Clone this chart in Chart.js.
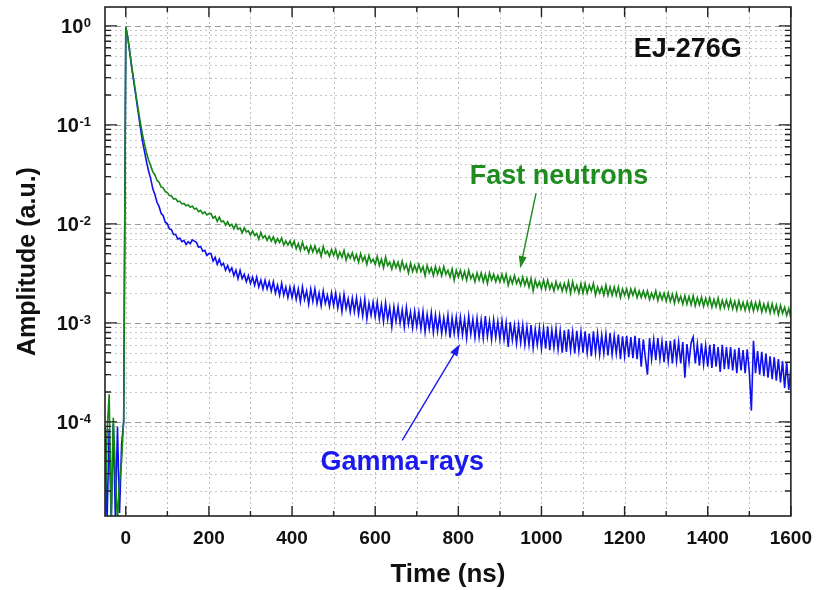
<!DOCTYPE html>
<html>
<head>
<meta charset="utf-8">
<script src="https://cdn.jsdelivr.net/npm/chart.js@4/dist/chart.umd.min.js"></script>
<style>
html,body{margin:0;padding:0;background:#fff;}
#wrap{width:823px;height:590px;}
</style>
</head>
<body>
<div id="wrap"><canvas id="c" width="823" height="590"></canvas></div>
<script>
// ---- sampling grid (ns) ----
const timeStart = -50;
const timeStep = 5;

// ---- Fast neutrons (green) ----
const fastNeutrons = [
  // -50 .. -5
  1.0e-5, 8.0e-5, 1.9e-4, 1.0e-5, 1.1e-4, 3.0e-5, 1.0e-5, 2.5e-5, 4.0e-5, 1.1e-4,
  // 0 .. 45
  0.98, 0.76, 0.53, 0.37, 0.27, 0.195, 0.142, 0.106, 0.081, 0.064,
  // 50 .. 95
  0.052, 0.044, 0.0385, 0.0335, 0.0314, 0.0276, 0.0263, 0.0236, 0.0231, 0.0212,
  // 100 .. 145
  0.0207, 0.0193, 0.0191, 0.0178, 0.0180, 0.0168, 0.0169, 0.0159, 0.0161, 0.0152,
  // 150 .. 195
  0.0156, 0.0147, 0.0151, 0.0141, 0.0144, 0.0133, 0.0137, 0.0127, 0.0132, 0.0123,
  // 200
  0.0127,
  // 205 .. 250
  0.0127, 0.0114, 0.0119, 0.0106, 0.0117, 0.0105, 0.0107, 0.0097, 0.0105, 0.0095,
  // 255 .. 300
  0.0099, 0.0089, 0.0099, 0.0088, 0.0091, 0.0081, 0.0091, 0.0083, 0.0085, 0.0077,
  // 305 .. 350
  0.0085, 0.0076, 0.0080, 0.0070, 0.0082, 0.0072, 0.0076, 0.0068, 0.0075, 0.0067,
  // 355 .. 400
  0.0074, 0.0064, 0.0071, 0.0065, 0.0072, 0.0061, 0.0067, 0.0061, 0.0067, 0.0059,
  // 405 .. 450
  0.0067, 0.0056, 0.0063, 0.0054, 0.0065, 0.0055, 0.0059, 0.0051, 0.0060, 0.0052,
  // 455 .. 500
  0.0060, 0.0051, 0.0056, 0.0047, 0.0059, 0.0050, 0.0053, 0.0047, 0.0055, 0.0048,
  // 505 .. 550
  0.0055, 0.0045, 0.0052, 0.0046, 0.0054, 0.0043, 0.0050, 0.0045, 0.0051, 0.0043,
  // 555 .. 600
  0.0049, 0.0041, 0.0050, 0.0042, 0.0047, 0.0039, 0.0048, 0.0041, 0.0044, 0.0039,
  // 605 .. 650
  0.0047, 0.0038, 0.0044, 0.0036, 0.0046, 0.0038, 0.0041, 0.0035, 0.0042, 0.0036,
  // 655 .. 700
  0.0041, 0.0034, 0.0042, 0.0035, 0.0039, 0.0032, 0.0040, 0.0033, 0.0038, 0.0033,
  // 705 .. 750
  0.0039, 0.0033, 0.0037, 0.0030, 0.0038, 0.0032, 0.0036, 0.0030, 0.0037, 0.0031,
  // 755 .. 800
  0.0036, 0.0030, 0.0037, 0.0031, 0.0034, 0.0029, 0.0035, 0.0027, 0.0034, 0.0029,
  // 805 .. 850
  0.0034, 0.0028, 0.0033, 0.0027, 0.0034, 0.0028, 0.0031, 0.0026, 0.0032, 0.0027,
  // 855 .. 900
  0.0032, 0.0026, 0.0031, 0.0025, 0.0032, 0.0027, 0.0031, 0.0026, 0.0030, 0.0026,
  // 905 .. 950
  0.0031, 0.0026, 0.0031, 0.0024, 0.0029, 0.0025, 0.0030, 0.0025, 0.0028, 0.0024,
  // 955 .. 1000
  0.0029, 0.0024, 0.0028, 0.0023, 0.0028, 0.0021, 0.0027, 0.0023, 0.0026, 0.0022,
  // 1005 .. 1050
  0.0027, 0.0022, 0.0027, 0.0022, 0.0025, 0.0021, 0.0026, 0.0022, 0.0025, 0.0021,
  // 1055 .. 1100
  0.0025, 0.0021, 0.0026, 0.0020, 0.0026, 0.0021, 0.0024, 0.0020, 0.0025, 0.0020,
  // 1105 .. 1150
  0.0025, 0.0020, 0.0024, 0.0021, 0.0025, 0.0019, 0.0023, 0.0020, 0.0023, 0.0019,
  // 1155 .. 1200
  0.0024, 0.0019, 0.0023, 0.0019, 0.0023, 0.0019, 0.0023, 0.0018, 0.0022, 0.0019,
  // 1205 .. 1250
  0.0022, 0.0018, 0.0022, 0.0019, 0.0022, 0.0018, 0.0021, 0.0018, 0.0021, 0.0018,
  // 1255 .. 1300
  0.0021, 0.00172, 0.0020, 0.00176, 0.0021, 0.00168, 0.0020, 0.00172, 0.0020, 0.00166,
  // 1305 .. 1350
  0.0020, 0.00165, 0.00194, 0.00158, 0.00198, 0.00163, 0.00185, 0.00155, 0.00188, 0.00155,
  // 1355 .. 1400
  0.00185, 0.00153, 0.00188, 0.00149, 0.00179, 0.00152, 0.00181, 0.00147, 0.00177, 0.00150,
  // 1405 .. 1450
  0.00178, 0.00144, 0.00172, 0.00146, 0.00178, 0.00140, 0.00169, 0.00142, 0.00170, 0.00141,
  // 1455 .. 1500
  0.00171, 0.00139, 0.00165, 0.00135, 0.00167, 0.00138, 0.00161, 0.00134, 0.00163, 0.00134,
  // 1505 .. 1550
  0.00163, 0.00132, 0.00160, 0.00135, 0.00163, 0.00129, 0.00155, 0.00131, 0.00157, 0.00126,
  // 1555 .. 1600
  0.00156, 0.00127, 0.00151, 0.00121, 0.00150, 0.00125, 0.00144, 0.00119, 0.00139, 0.00112
];

// ---- Gamma-rays (blue), values ----
const gammaRays = [
  // -50 .. -5
  9.0e-5, 1.0e-5, 8.5e-5, 1.0e-5, 9.5e-5, 1.0e-5, 9.0e-5, 1.2e-5, 6.0e-5, 1.0e-4,
  // 0 .. 45
  0.97, 0.75, 0.52, 0.36, 0.26, 0.185, 0.132, 0.095, 0.069, 0.054,
  // 50 .. 95
  0.042, 0.034, 0.0285, 0.0226, 0.0198, 0.0165, 0.0150, 0.0128, 0.0121, 0.0104,
  // 100 .. 145
  0.0100, 0.0089, 0.0087, 0.0078, 0.0078, 0.0070, 0.0072, 0.0066, 0.0068, 0.0062,
  // 150 .. 195
  0.0066, 0.0063, 0.0069, 0.0067, 0.0065, 0.0058, 0.0059, 0.0053, 0.0054, 0.0048,
  // 200
  0.0050,
  // 205 .. 250
  0.0050, 0.0042, 0.0046, 0.0039, 0.0044, 0.0038, 0.0040, 0.0034, 0.0038, 0.0033,
  // 255 .. 300
  0.0036, 0.0030, 0.0034, 0.0028, 0.0034, 0.0028, 0.0031, 0.0026, 0.0030, 0.0025,
  // 305 .. 350
  0.0029, 0.0024, 0.0029, 0.0023, 0.0027, 0.0022, 0.0027, 0.0022, 0.0026, 0.0021,
  // 355 .. 400
  0.0026, 0.0020, 0.0024, 0.0019, 0.0025, 0.0019, 0.0023, 0.0018, 0.0023, 0.0018,
  // 405 .. 450
  0.0023, 0.00173, 0.0022, 0.00163, 0.0023, 0.00172, 0.0021, 0.00154, 0.0022, 0.00165,
  // 455 .. 500
  0.0022, 0.00157, 0.0020, 0.00149, 0.0021, 0.00157, 0.0019, 0.00147, 0.0020, 0.0015,
  // 505 .. 550
  0.0020, 0.00141, 0.00187, 0.0013, 0.00194, 0.00139, 0.00175, 0.00129, 0.00178, 0.0013,
  // 555 .. 600
  0.00179, 0.00123, 0.00168, 0.00118, 0.00174, 0.0011, 0.00158, 0.00119, 0.00162, 0.00115,
  // 605 .. 650
  0.00162, 0.0011, 0.00152, 0.00103, 0.00159, 0.00108, 0.00143, 0.00092, 0.00145, 0.00104,
  // 655 .. 700
  0.00145, 0.00099, 0.00136, 0.00091, 0.00143, 0.00097, 0.00129, 0.00089, 0.00131, 0.00092,
  // 705 .. 750
  0.00128, 0.00087, 0.0013, 0.00081, 0.00122, 0.00087, 0.00127, 0.0008, 0.0012, 0.00082,
  // 755 .. 800
  0.00118, 0.00078, 0.00113, 0.0008, 0.00119, 0.00071, 0.00113, 0.00078, 0.00114, 0.00075,
  // 805 .. 850
  0.00114, 0.00076, 0.00109, 0.0007, 0.00117, 0.00077, 0.00109, 0.00071, 0.00111, 0.00072,
  // 855 .. 900
  0.00107, 0.0007, 0.00117, 0.00073, 0.00104, 0.00068, 0.00107, 0.00071, 0.00103, 0.00068,
  // 905 .. 950
  0.00105, 0.00068, 0.0010, 0.00057, 0.00102, 0.00067, 0.00095, 0.00062, 0.00095, 0.00063,
  // 955 .. 1000
  0.00095, 0.0006, 0.00091, 0.0006, 0.00095, 0.00056, 0.00087, 0.0006, 0.00089, 0.00055,
  // 1005 .. 1050
  0.00088, 0.00055, 0.00092, 0.00053, 0.00085, 0.00056, 0.00087, 0.00054, 0.00083, 0.0005,
  // 1055 .. 1100
  0.00084, 0.00051, 0.00086, 0.00053, 0.00081, 0.00049, 0.00083, 0.00052, 0.00081, 0.0005,
  // 1105 .. 1150
  0.00082, 0.0005, 0.00078, 0.00046, 0.00082, 0.0005, 0.00078, 0.00048, 0.00075, 0.00049,
  // 1155 .. 1200
  0.00077, 0.00047, 0.00079, 0.00048, 0.00074, 0.00049, 0.00076, 0.00043, 0.00073, 0.00046,
  // 1205 .. 1250
  0.00074, 0.00045, 0.00072, 0.00044, 0.00074, 0.00043, 0.0007, 0.00036, 0.00068, 0.00044,
  // 1255 .. 1300
  0.0003, 0.0007, 0.00043, 0.00068, 0.00042, 0.0007, 0.00043, 0.00065, 0.0004, 0.00066,
  // 1305 .. 1350
  0.00041, 0.00066, 0.00039, 0.00068, 0.00041, 0.00064, 0.00039, 0.00064, 0.00028, 0.00061,
  // 1355 .. 1400
  0.0004, 0.00063, 0.00072, 0.00039, 0.00061, 0.00037, 0.00062, 0.00038, 0.00059, 0.00036,
  // 1405 .. 1450
  0.0006, 0.00035, 0.00061, 0.00036, 0.00057, 0.00032, 0.0006, 0.00034, 0.00057, 0.00034,
  // 1455 .. 1500
  0.00057, 0.00033, 0.00054, 0.00031, 0.00056, 0.00033, 0.00053, 0.00031, 0.00054, 0.00032,
  // 1505 .. 1550
  0.00013, 0.00066, 0.00031, 0.00052, 0.0003, 0.00051, 0.00029, 0.00049, 0.00028, 0.00046,
  // 1555 .. 1600
  0.00027, 0.00045, 0.00026, 0.00043, 0.00025, 0.00041, 0.00022, 0.0004, 0.00021, 0.00035
];

// ---- axes ----
const xRange = [-50, 1600];
const yRange = [1.12e-5, 1.55];
const xTickValues = [0, 100, 200, 300, 400, 500, 600, 700, 800, 900, 1000, 1100, 1200, 1300, 1400, 1500, 1600];
const xLabelValues = [0, 200, 400, 600, 800, 1000, 1200, 1400, 1600];
const yDecadeExponents = [-5, -4, -3, -2, -1, 0];
const yMinorMultipliers = [1, 2, 3, 4, 5, 6, 7, 8, 9];

// ---- annotations (data coordinates) ----
const textLabels = [
  { text: 'EJ-276G', x: 1352, y: 0.57, color: '#111111' },
  { text: 'Fast neutrons', x: 1042, y: 0.0303, color: '#1e8c1e' },
  { text: 'Gamma-rays', x: 665, y: 3.9e-5, color: '#1a1aee' }
];
const arrows = [
  { from: [987, 0.0204], to: [949, 0.00357], color: '#1e8c1e' },
  { from: [665, 6.5e-5], to: [804, 6.1e-4], color: '#1a1aee' }
];

const FONT = '"Liberation Sans", Arial, Helvetica, sans-serif';
const GREEN = '#158715';
const BLUE = '#1010ee';

const toPoints = arr => arr.map((v, i) => ({ x: timeStart + i * timeStep, y: v }));

const decorPlugin = {
  id: 'decor',
  beforeDatasetsDraw(chart) {
    const { ctx, chartArea: a, scales: { x, y } } = chart;
    ctx.save();
    ctx.lineWidth = 1;
    ctx.strokeStyle = '#bdbdbd';
    ctx.setLineDash([2, 3]);
    x.ticks.forEach(t => {
      const px = Math.round(x.getPixelForValue(t.value)) + 0.5;
      if (px <= a.left + 1 || px >= a.right - 1) return;
      ctx.beginPath(); ctx.moveTo(px, a.top); ctx.lineTo(px, a.bottom); ctx.stroke();
    });
    y.ticks.forEach(t => {
      const py = Math.round(y.getPixelForValue(t.value)) + 0.5;
      if (py <= a.top + 1 || py >= a.bottom - 1) return;
      if (t.major) { ctx.strokeStyle = '#9d9d9d'; ctx.setLineDash([6, 4]); }
      else { ctx.strokeStyle = '#c6c6c6'; ctx.setLineDash([2, 3]); }
      ctx.beginPath(); ctx.moveTo(a.left, py); ctx.lineTo(a.right, py); ctx.stroke();
    });
    ctx.restore();
  },
  afterDatasetsDraw(chart) {
    const { ctx, chartArea: a, scales: { x, y } } = chart;
    ctx.save();
    ctx.setLineDash([]);
    ctx.strokeStyle = '#222';
    ctx.lineWidth = 1.6;
    ctx.strokeRect(a.left, a.top, a.right - a.left, a.bottom - a.top);
    ctx.lineWidth = 1.4;
    x.ticks.forEach(t => {
      const px = x.getPixelForValue(t.value);
      const len = xLabelValues.includes(t.value) ? 10 : 5;
      ctx.beginPath();
      ctx.moveTo(px, a.bottom); ctx.lineTo(px, a.bottom - len);
      ctx.moveTo(px, a.top); ctx.lineTo(px, a.top + len);
      ctx.stroke();
    });
    y.ticks.forEach(t => {
      const py = y.getPixelForValue(t.value);
      if (py < a.top - 0.5 || py > a.bottom + 0.5) return;
      const len = t.major ? 12 : 6;
      ctx.beginPath();
      ctx.moveTo(a.left, py); ctx.lineTo(a.left + len, py);
      ctx.moveTo(a.right, py); ctx.lineTo(a.right - len, py);
      ctx.stroke();
    });
    ctx.fillStyle = '#111';
    yDecadeExponents.forEach(e => {
      const v = Math.pow(10, e);
      if (v < y.min || v > y.max) return;
      const py = y.getPixelForValue(v);
      const exp = e === 0 ? '0' : '-' + Math.abs(e);
      ctx.font = 'bold 13px ' + FONT;
      const ew = ctx.measureText(exp).width;
      const right = 91;
      ctx.textAlign = 'left';
      ctx.textBaseline = 'top';
      ctx.fillText(exp, right - ew, py - 9);
      ctx.font = 'bold 20px ' + FONT;
      ctx.textAlign = 'right';
      ctx.textBaseline = 'middle';
      ctx.fillText('10', right - ew - 0.5, py + 1.5);
    });
    arrows.forEach(ar => {
      const x0 = x.getPixelForValue(ar.from[0]), y0 = y.getPixelForValue(ar.from[1]);
      const x1 = x.getPixelForValue(ar.to[0]), y1 = y.getPixelForValue(ar.to[1]);
      const ang = Math.atan2(y1 - y0, x1 - x0);
      const hl = 12, hw = 4;
      ctx.strokeStyle = ar.color; ctx.fillStyle = ar.color; ctx.lineWidth = 1.4;
      ctx.beginPath(); ctx.moveTo(x0, y0);
      ctx.lineTo(x1 - Math.cos(ang) * hl * 0.8, y1 - Math.sin(ang) * hl * 0.8); ctx.stroke();
      ctx.beginPath();
      ctx.moveTo(x1, y1);
      ctx.lineTo(x1 - Math.cos(ang) * hl - Math.sin(ang) * hw, y1 - Math.sin(ang) * hl + Math.cos(ang) * hw);
      ctx.lineTo(x1 - Math.cos(ang) * hl + Math.sin(ang) * hw, y1 - Math.sin(ang) * hl - Math.cos(ang) * hw);
      ctx.closePath(); ctx.fill();
    });
    ctx.font = 'bold 27px ' + FONT;
    ctx.textAlign = 'center';
    ctx.textBaseline = 'middle';
    textLabels.forEach(l => {
      ctx.fillStyle = l.color;
      ctx.fillText(l.text, x.getPixelForValue(l.x), y.getPixelForValue(l.y));
    });
    ctx.restore();
  }
};

new Chart(document.getElementById('c'), {
  type: 'line',
  data: {
    datasets: [
      { label: 'Fast neutrons', data: toPoints(fastNeutrons), borderColor: GREEN, borderWidth: 1.6, pointRadius: 0, fill: false, tension: 0 },
      { label: 'Gamma-rays', data: toPoints(gammaRays), borderColor: BLUE, borderWidth: 1.6, pointRadius: 0, fill: false, tension: 0 }
    ]
  },
  options: {
    responsive: false,
    animation: false,
    devicePixelRatio: 1,
    layout: { padding: { left: 0, right: 26, top: 7, bottom: 0 } },
    plugins: { legend: { display: false }, tooltip: { enabled: false } },
    scales: {
      x: {
        type: 'linear', bounds: 'data', min: xRange[0], max: xRange[1],
        afterBuildTicks: s => { s.ticks = xTickValues.map(v => ({ value: v })); },
        afterFit: s => { s.height = 74; },
        grid: { display: false, drawTicks: false },
        border: { display: false },
        ticks: {
          autoSkip: false, maxRotation: 0, minRotation: 0, padding: 11,
          color: '#111', font: { family: FONT, size: 19, weight: 'bold' },
          callback: v => xLabelValues.includes(v) ? String(v) : ''
        },
        title: { display: true, text: 'Time (ns)', color: '#111', font: { family: FONT, size: 26, weight: 'bold' }, padding: { top: 0, bottom: 0 } }
      },
      y: {
        type: 'logarithmic', bounds: 'data', min: yRange[0], max: yRange[1],
        afterBuildTicks: s => {
          const t = [];
          yDecadeExponents.forEach(e => yMinorMultipliers.forEach(m => {
            const v = m * Math.pow(10, e);
            if (v >= s.min && v <= s.max) t.push({ value: v, major: m === 1 });
          }));
          s.ticks = t;
        },
        afterFit: s => { s.width = 105; },
        grid: { display: false, drawTicks: false },
        border: { display: false },
        ticks: { display: false },
        title: { display: true, text: 'Amplitude (a.u.)', color: '#111', font: { family: FONT, size: 25, weight: 'bold' }, padding: { top: 13, bottom: 0 } }
      }
    }
  },
  plugins: [decorPlugin]
});
</script>
</body>
</html>
